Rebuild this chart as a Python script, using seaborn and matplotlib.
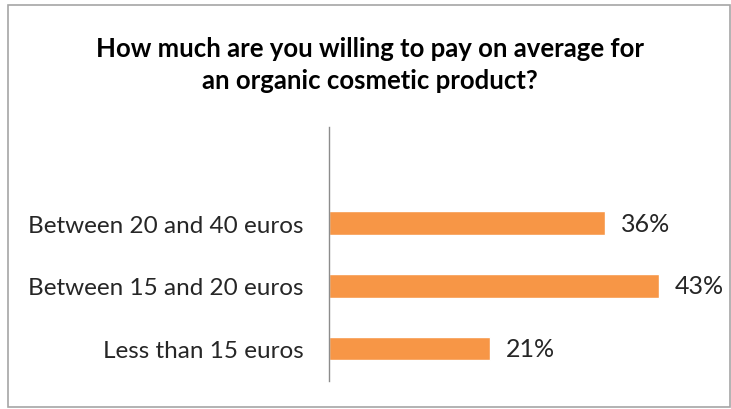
import matplotlib
matplotlib.use("Agg")
import matplotlib.pyplot as plt
from matplotlib.patches import Rectangle
import seaborn as sns
import pandas as pd

categories = ["Between 20 and 40 euros", "Between 15 and 20 euros", "Less than 15 euros"]
shares = [36, 43, 21]
value_labels = ["36%", "43%", "21%"]
title = "How much are you willing to pay on average for\nan organic cosmetic product?"

sns.set_theme(style="white")
plt.rcParams["font.family"] = ["Lato", "DejaVu Sans"]

W, H = 731, 410
fig = plt.figure(figsize=(W / 100, H / 100), dpi=100)
fig.patch.set_facecolor("white")

# chart frame
fig.patches.append(Rectangle((8 / W, 2 / H), 722 / W, 402 / H, transform=fig.transFigure,
                             fill=False, edgecolor="#a6a6a6", linewidth=1.2))

ax = fig.add_axes([329 / W, 28 / H, 383.5 / W, 254 / H])
df = pd.DataFrame({"category": categories, "share": shares})
sns.barplot(data=df, x="share", y="category", orient="h", color="#F79646",
            saturation=1, width=0.38, ax=ax)

ax.set_xlim(0, 50)
ax.set_ylim(2.52, -1.54)
ax.set_xlabel("")
ax.set_ylabel("")
ax.set_xticks([])
for s in ["top", "right", "bottom"]:
    ax.spines[s].set_visible(False)
ax.spines["left"].set_color("#8c8c8c")
ax.spines["left"].set_linewidth(1.0)
ax.tick_params(axis="y", length=0, pad=18, labelsize=17.5, labelcolor="#262626")

for i, (v, lab) in enumerate(zip(shares, value_labels)):
    ax.annotate(lab, (v, i), xytext=(11.5, 0), textcoords="offset points",
                va="center", ha="left", fontsize=18, color="#262626")

fig.text(370 / W, 1 - 65 / H, title, ha="center", va="center", fontsize=18.5,
         fontweight="bold", color="black", linespacing=1.4)

fig.savefig("out.png", dpi=100)
